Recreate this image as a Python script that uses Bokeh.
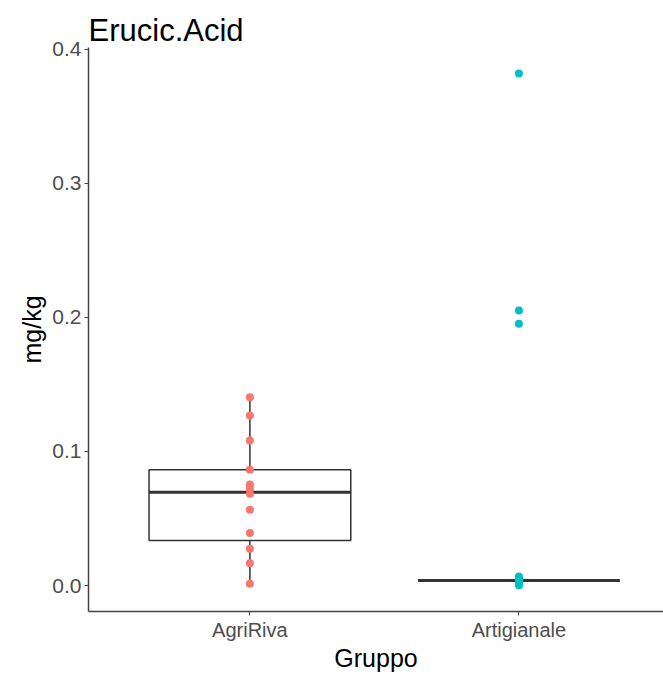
from bokeh.plotting import figure
from bokeh.models import Range1d, FixedTicker
from bokeh.embed import file_html
from bokeh.resources import INLINE

# ---- data ----
groups = ["AgriRiva", "Artigianale"]
agririva = [0.1405, 0.1269, 0.1082, 0.0863, 0.0754, 0.0722, 0.0684, 0.0565,
            0.0393, 0.0274, 0.0167, 0.0013]
artigianale = [0.3819, 0.2052, 0.1953, 0.0068, 0.0055, 0.0045, 0.0040, 0.0038,
               0.0035, 0.0025, 0.0012, 0.0003]
box_low = [0.0013, 0.0038]
box_q1 = [0.0336, 0.0038]
box_med = [0.0696, 0.0038]
box_q3 = [0.0863, 0.0038]
box_high = [0.1405, 0.0038]
colors = ["#F8766D", "#00BFC4"]
y_ticks = [0.0, 0.1, 0.2, 0.3, 0.4]

FONT = "Liberation Sans"
xs = [i + 1 for i in range(len(groups))]

p = figure(width=663, height=674, output_backend="svg", toolbar_location=None,
           x_range=Range1d(0.4, 2.5375), y_range=Range1d(-0.0193, 0.4012),
           min_border_left=88, min_border_right=0, min_border_top=47,
           min_border_bottom=63, title="Erucic.Acid")
p.background_fill_color = "white"
p.border_fill_color = "white"
p.outline_line_color = None
p.xgrid.visible = False
p.ygrid.visible = False

p.title.text_font = FONT
p.title.text_font_size = "31px"
p.title.text_font_style = "normal"
p.title.text_color = "#000000"
p.title.align = "left"
p.title.offset = 0
p.title.standoff = 0

# whiskers
p.segment(x0=xs, x1=xs, y0=box_low, y1=box_q1, line_color="#333333", line_width=1.5)
p.segment(x0=xs, x1=xs, y0=box_q3, y1=box_high, line_color="#333333", line_width=1.5)
# boxes
p.quad(left=[x - 0.375 for x in xs], right=[x + 0.375 for x in xs],
       bottom=box_q1, top=box_q3, fill_color="white", line_color="#333333",
       line_width=1.5)
# medians
p.segment(x0=[x - 0.375 for x in xs], x1=[x + 0.375 for x in xs],
          y0=box_med, y1=box_med, line_color="#333333", line_width=3)

# points
p.scatter([xs[0]] * len(agririva), agririva, size=8, fill_color=colors[0],
          line_color=None)
p.scatter([xs[1]] * len(artigianale), artigianale, size=8, fill_color=colors[1],
          line_color=None)

# axes
for ax in (p.xaxis[0], p.yaxis[0]):
    ax.axis_line_color = "#444444"
    ax.axis_line_width = 1.5
    ax.major_tick_line_color = "#444444"
    ax.major_tick_line_width = 1
    ax.major_tick_in = 0
    ax.major_tick_out = 4
    ax.minor_tick_line_color = None
    ax.major_label_text_font = FONT
    ax.major_label_text_font_size = "20px"
    ax.major_label_text_color = "#4D4D4D"
    ax.axis_label_text_font = FONT
    ax.axis_label_text_font_size = "25px"
    ax.axis_label_text_font_style = "normal"
    ax.axis_label_text_color = "#000000"

p.yaxis.major_label_text_font_size = "21px"

p.xaxis.ticker = FixedTicker(ticks=xs)
p.xaxis.major_label_overrides = {x: g for x, g in zip(xs, groups)}
p.xaxis.axis_label = "Gruppo"
p.xaxis.major_label_standoff = 3
p.xaxis.axis_label_standoff = 0

p.yaxis.ticker = FixedTicker(ticks=y_ticks)
p.yaxis.major_label_overrides = {t: f"{t:.1f}" for t in y_ticks}
p.yaxis.axis_label = "mg/kg"
p.yaxis.major_label_standoff = 3
p.yaxis.axis_label_standoff = 3

open("out.html", "w").write(file_html(p, INLINE))
